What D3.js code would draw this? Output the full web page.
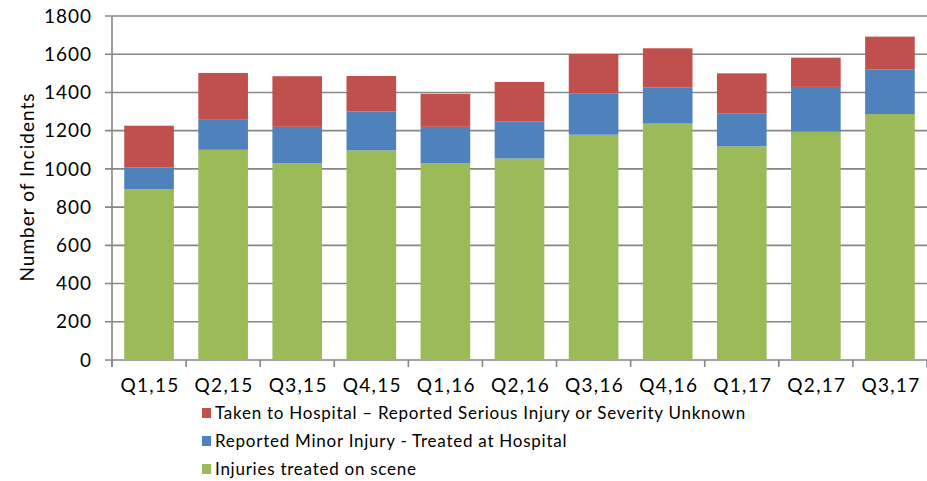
<!DOCTYPE html>
<html>
<head>
<meta charset="utf-8">
<script src="https://cdn.jsdelivr.net/npm/d3@7"></script>
<style>
  body { margin: 0; background: #fff; }
  svg { font-family: "Lato", "Open Sans", sans-serif; }
</style>
</head>
<body>
<svg id="chart"></svg>
<script>
const quarters = ['Q1,15','Q2,15','Q3,15','Q4,15','Q1,16','Q2,16','Q3,16','Q4,16','Q1,17','Q2,17','Q3,17']
const onScene = [893, 1100, 1030, 1097, 1030, 1054, 1179, 1237, 1118, 1195, 1287]
const minorHospital = [115, 157, 190, 204, 190, 195, 215, 190, 171, 234, 234]
const seriousHospital = [218, 245, 265, 185, 173, 206, 207, 204, 211, 153, 171]
const yTicks = [0, 200, 400, 600, 800, 1000, 1200, 1400, 1600, 1800]

const seriesNames = ['Injuries treated on scene', 'Reported Minor Injury - Treated at Hospital', 'Taken to Hospital \u2013 Reported Serious Injury or Severity Unknown']
const seriesKeys = ['scene', 'minor', 'serious']
const colors = ['#9BBB59', '#4F81BD', '#C0504D']

const width = 927, height = 481
const margin = {top: 16, right: 0, bottom: 121, left: 112}

const svg = d3.select('#chart').attr('width', width).attr('height', height)

const rows = quarters.map((q, i) => ({quarter: q, scene: onScene[i], minor: minorHospital[i], serious: seriousHospital[i]}))
const stacked = d3.stack().keys(seriesKeys)(rows)

const x = d3.scaleBand()
	.domain(quarters)
	.range([margin.left, width - margin.right])
	.paddingInner(0.33)
	.paddingOuter(0.165)

const y = d3.scaleLinear()
	.domain([0, 1800])
	.range([height - margin.bottom, margin.top])

// gridlines
svg.append('g')
	.selectAll('line')
	.data(yTicks)
	.join('line')
		.attr('x1', margin.left - 7)
		.attr('x2', width - margin.right)
		.attr('y1', d => y(d))
		.attr('y2', d => y(d))
		.attr('stroke', '#868686')
		.attr('stroke-width', 1.6)

// y labels
svg.append('g')
	.selectAll('text')
	.data(yTicks)
	.join('text')
		.attr('x', margin.left - 20)
		.attr('y', d => y(d))
		.attr('dy', '0.35em')
		.attr('text-anchor', 'end')
		.attr('font-size', 19)
		.attr('letter-spacing', 1)
		.attr('fill', '#000')
		.text(d => d)

// bars
svg.append('g')
	.selectAll('g')
	.data(stacked)
	.join('g')
		.attr('fill', (d, i) => colors[i])
	.selectAll('rect')
	.data(d => d)
	.join('rect')
		.attr('x', d => x(d.data.quarter))
		.attr('y', d => y(d[1]))
		.attr('height', d => y(d[0]) - y(d[1]))
		.attr('width', x.bandwidth())

// axes lines
svg.append('line')
	.attr('x1', margin.left).attr('x2', margin.left)
	.attr('y1', y(1800)).attr('y2', y(0) + 7)
	.attr('stroke', '#868686').attr('stroke-width', 1.6)

const step = x.step()
const bounds = d3.range(quarters.length + 1).map(i => margin.left + i * step)
svg.append('g')
	.selectAll('line')
	.data(bounds)
	.join('line')
		.attr('x1', d => d).attr('x2', d => d)
		.attr('y1', y(0)).attr('y2', y(0) + 7)
		.attr('stroke', '#868686').attr('stroke-width', 1.6)

// x labels
svg.append('g')
	.selectAll('text')
	.data(quarters)
	.join('text')
		.attr('x', d => x(d) + x.bandwidth() / 2 + 1)
		.attr('y', y(0) + 25)
		.attr('dy', '0.35em')
		.attr('text-anchor', 'middle')
		.attr('font-size', 19)
		.attr('letter-spacing', 1.3)
		.text(d => d)

// y title
svg.append('text')
	.attr('transform', 'translate(27,187) rotate(-90)')
	.attr('text-anchor', 'middle')
	.attr('dy', '0.35em')
	.attr('font-size', 19)
	.attr('letter-spacing', 1)
	.text('Number of Incidents')

// legend (reverse order, serious on top)
const legendOrder = [2, 1, 0]
const legend = svg.append('g')
	.selectAll('g')
	.data(legendOrder)
	.join('g')
		.attr('transform', (d, i) => 'translate(202,' + (413 + i * 28) + ')')
legend.append('rect')
	.attr('x', 0).attr('y', -5)
	.attr('width', 9).attr('height', 10)
	.attr('fill', d => colors[d])
legend.append('text')
	.attr('x', 13)
	.attr('dy', '0.35em')
	.attr('font-size', 17)
	.attr('letter-spacing', 0.75)
	.text(d => seriesNames[d])
</script>
</body>
</html>
